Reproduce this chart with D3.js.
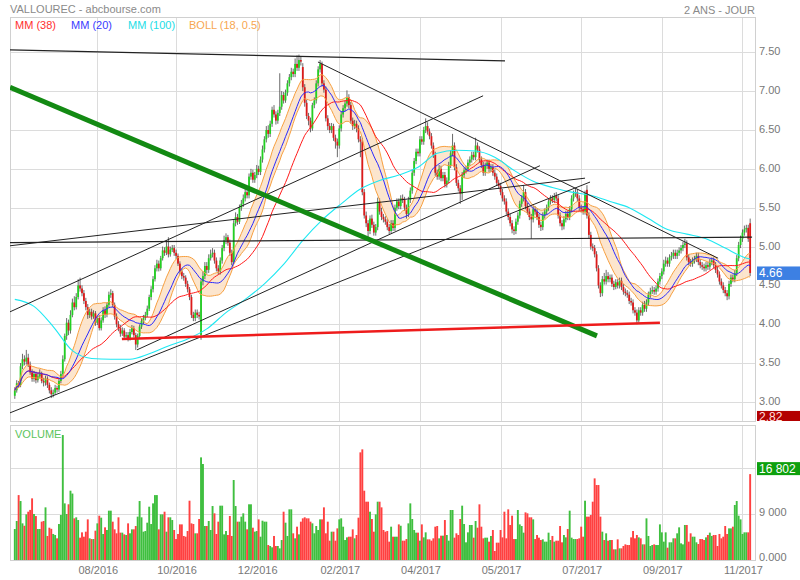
<!DOCTYPE html>
<html>
<head>
<meta charset="utf-8">
<title>VALLOUREC - abcbourse.com</title>
<script src="https://d3js.org/d3.v7.min.js"></script>
<style>
  body { margin: 0; background: #fff; }
  text { font-family: "Liberation Sans", Arial, sans-serif; }
</style>
</head>
<body>
<script>
// daily candles
const opens = [
  3.08,3.15,3.24,3.22,3.46,3.55,3.52,3.57,3.48,3.38, 3.30,3.36,3.28,3.33,3.36,3.27,3.25,3.30,3.22,3.15,
  3.10,3.12,3.18,3.16,3.27,3.36,3.55,3.85,4.02,3.92, 4.12,4.28,4.22,4.35,4.50,4.46,4.40,4.30,4.22,4.12,
  4.16,4.10,4.14,4.02,4.08,3.95,4.05,4.18,4.12,4.25, 4.38,4.40,4.25,4.10,4.00,3.95,3.88,3.92,3.84,3.86,
  3.82,3.90,3.95,3.86,3.74,3.85,3.97,4.04,4.08,4.12, 4.20,4.35,4.45,4.58,4.72,4.78,4.72,4.85,4.95,4.92,
  5.00,4.90,4.96,4.98,4.92,4.88,4.78,4.68,4.62,4.60, 4.52,4.45,4.35,4.12,4.08,4.15,4.12,3.86,4.55,4.62,
  4.75,4.70,4.85,4.90,4.92,4.82,4.72,4.68,4.82,4.98, 5.08,5.12,5.05,4.92,4.80,5.30,5.38,5.32,5.50,5.55,
  5.62,5.70,5.66,5.90,5.95,5.86,5.92,6.00,5.96,6.12, 6.25,6.38,6.50,6.45,6.58,6.76,6.70,6.62,6.72,6.80,
  6.95,6.88,6.98,7.10,7.18,7.25,7.22,7.35,7.30,7.40, 7.31,7.05,6.85,6.68,6.62,6.52,6.82,6.88,7.10,7.28,
  7.35,7.10,7.02,6.65,6.55,6.50,6.55,6.40,6.35,6.30, 6.52,6.70,6.78,6.84,6.92,6.82,6.62,6.55,6.58,6.52,
  6.38,6.35,5.70,5.40,5.30,5.20,5.36,5.28,5.18,5.25, 5.58,5.45,5.38,5.35,5.32,5.25,5.20,5.30,5.24,5.50,
  5.58,5.52,5.62,5.60,5.50,5.42,5.60,5.72,5.95,6.10, 6.22,6.20,6.38,6.35,6.50,6.55,6.48,6.42,6.30,6.18,
  5.95,5.90,6.00,5.88,5.92,5.80,5.85,6.05,6.20,6.30, 6.02,5.82,5.75,5.68,5.92,5.98,6.00,6.08,6.12,6.18,
  6.15,6.30,6.25,6.12,6.05,5.95,6.04,6.08,6.00,6.02, 5.95,5.90,5.82,5.78,5.70,5.62,5.58,5.45,5.38,5.30,
  5.22,5.20,5.32,5.40,5.55,5.62,5.70,5.52,5.45,5.38, 5.35,5.48,5.45,5.38,5.28,5.25,5.40,5.45,5.50,5.58,
  5.62,5.60,5.65,5.62,5.40,5.30,5.26,5.35,5.42,5.38, 5.48,5.62,5.68,5.70,5.62,5.50,5.48,5.45,5.73,5.40,
  5.15,5.00,4.98,4.90,4.72,4.50,4.40,4.58,4.55,4.62, 4.58,4.60,4.52,4.48,4.54,4.50,4.56,4.48,4.42,4.40,
  4.38,4.30,4.28,4.18,4.15,4.05,4.18,4.15,4.25,4.20, 4.28,4.38,4.42,4.44,4.42,4.46,4.55,4.62,4.68,4.78,
  4.82,4.78,4.86,4.88,4.92,4.88,4.92,4.95,4.98,5.02, 5.04,4.86,4.80,4.78,4.82,4.84,4.88,4.80,4.76,4.74,
  4.72,4.76,4.74,4.80,4.82,4.76,4.70,4.64,4.55,4.50, 4.44,4.40,4.36,4.52,4.60,4.58,4.66,4.85,5.02,5.10,
  5.18,5.22,5.24,5.30
];
const highs = [
  3.19,3.28,3.27,3.50,3.62,3.60,3.67,3.62,3.52,3.42, 3.40,3.39,3.37,3.42,3.39,3.31,3.34,3.33,3.25,3.19,
  3.16,3.22,3.21,3.30,3.40,3.60,3.88,4.08,4.06,4.18, 4.33,4.36,4.40,4.58,4.60,4.50,4.44,4.34,4.26,4.20,
  4.20,4.18,4.17,4.11,4.12,4.09,4.22,4.23,4.28,4.42, 4.45,4.43,4.28,4.14,4.04,3.99,3.96,3.95,3.90,3.90,
  3.94,3.99,3.98,3.89,3.88,4.00,4.08,4.12,4.16,4.24, 4.38,4.49,4.62,4.76,4.83,4.82,4.88,5.00,4.99,5.08,
  5.12,5.00,5.02,5.02,4.96,4.91,4.81,4.72,4.66,4.63, 4.56,4.48,4.38,4.16,4.19,4.19,4.16,4.58,4.68,4.80,
  4.80,4.90,4.96,4.98,4.96,4.86,4.76,4.86,5.02,5.14, 5.17,5.15,5.09,4.96,5.34,5.44,5.42,5.54,5.60,5.67,
  5.75,5.74,5.94,6.00,5.99,5.96,6.05,6.04,6.16,6.30, 6.42,6.55,6.56,6.62,6.80,6.82,6.74,6.76,7.23,7.00,
  6.99,7.02,7.14,7.22,7.30,7.29,7.42,7.46,7.47,7.44, 7.36,7.09,6.89,6.72,6.66,6.85,6.92,7.14,7.32,7.40,
  7.38,7.14,7.06,6.69,6.59,6.59,6.58,6.44,6.39,6.56, 6.74,6.82,6.88,7.01,6.96,6.86,6.66,6.63,6.62,6.56,
  6.42,6.40,5.74,5.45,5.34,5.40,5.41,5.32,5.29,5.63, 5.62,5.50,5.42,5.39,5.36,5.29,5.34,5.34,5.54,5.62,
  5.62,5.66,5.67,5.64,5.54,5.64,5.76,5.99,6.14,6.26, 6.26,6.42,6.42,6.54,6.65,6.60,6.52,6.46,6.34,6.22,
  5.99,6.05,6.04,5.96,5.96,5.89,6.09,6.24,6.45,6.34, 6.06,5.86,5.79,5.96,6.02,6.04,6.12,6.16,6.22,6.22,
  6.40,6.34,6.29,6.16,6.09,6.08,6.12,6.12,6.06,6.06, 5.99,5.94,5.86,5.82,5.74,5.66,5.62,5.49,5.42,5.34,
  5.26,5.36,5.44,5.59,5.66,5.79,5.74,5.56,5.49,5.42, 5.52,5.52,5.49,5.42,5.32,5.44,5.49,5.54,5.62,5.66,
  5.66,5.69,5.70,5.66,5.44,5.34,5.39,5.46,5.46,5.52, 5.66,5.72,5.75,5.74,5.66,5.54,5.52,5.72,5.79,5.44,
  5.19,5.04,5.02,4.94,4.76,4.54,4.62,4.66,4.70,4.67, 4.64,4.64,4.56,4.58,4.58,4.60,4.60,4.52,4.46,4.44,
  4.42,4.34,4.32,4.22,4.19,4.22,4.22,4.29,4.30,4.32, 4.42,4.47,4.49,4.48,4.50,4.59,4.66,4.72,4.83,4.87,
  4.86,4.90,4.93,4.96,4.96,4.96,4.99,5.02,5.06,5.10, 5.08,4.90,4.84,4.86,4.88,4.92,4.92,4.84,4.80,4.78,
  4.80,4.80,4.84,4.86,4.86,4.80,4.74,4.68,4.59,4.54, 4.48,4.44,4.56,4.64,4.64,4.70,4.89,5.06,5.14,5.22,
  5.27,5.28,5.28,5.36
];
const lows = [
  3.04,3.12,3.18,3.19,3.42,3.47,3.48,3.45,3.35,3.26, 3.26,3.24,3.25,3.30,3.24,3.20,3.21,3.18,3.11,3.05,
  3.06,3.09,3.12,3.13,3.24,3.33,3.52,3.80,3.86,3.88, 4.09,4.18,4.19,4.32,4.42,4.36,4.26,4.18,4.07,4.08,
  4.06,4.07,3.98,3.99,3.92,3.92,4.02,4.08,4.09,4.22, 4.34,4.22,4.06,3.96,3.91,3.84,3.85,3.80,3.80,3.78,
  3.79,3.87,3.83,3.67,3.70,3.82,3.94,4.00,4.05,4.09, 4.17,4.31,4.41,4.55,4.68,4.68,4.69,4.82,4.88,4.89,
  4.86,4.87,4.93,4.88,4.84,4.75,4.64,4.58,4.56,4.48, 4.41,4.31,4.08,4.04,4.04,4.08,4.06,3.80,4.50,4.58,
  4.65,4.66,4.82,4.86,4.78,4.68,4.64,4.64,4.78,4.94, 5.03,5.01,4.88,4.76,4.77,5.26,5.28,5.29,5.46,5.51,
  5.58,5.62,5.62,5.86,5.82,5.82,5.88,5.92,5.92,6.08, 6.21,6.34,6.40,6.41,6.54,6.66,6.57,6.58,6.68,6.76,
  6.84,6.85,6.94,7.06,7.14,7.18,7.18,7.26,7.26,7.33, 7.00,6.80,6.64,6.56,6.47,6.49,6.78,6.84,7.06,7.24,
  7.06,6.98,6.61,6.50,6.46,6.46,6.36,6.26,6.15,6.26, 6.48,6.66,6.74,6.80,6.78,6.58,6.50,6.51,6.47,6.34,
  6.15,5.66,5.36,5.25,5.10,5.16,5.24,5.14,5.14,5.21, 5.41,5.34,5.31,5.28,5.21,5.16,5.17,5.20,5.20,5.46,
  5.48,5.48,5.56,5.46,5.36,5.38,5.56,5.68,5.91,6.06, 6.16,6.16,6.31,6.31,6.46,6.44,6.38,6.26,6.14,5.91,
  5.86,5.86,5.84,5.84,5.76,5.76,5.81,6.01,6.16,5.98, 5.78,5.71,5.55,5.60,5.88,5.94,5.96,6.04,6.08,6.11,
  6.11,6.21,6.08,6.01,5.91,5.91,6.00,5.96,5.96,5.91, 5.86,5.78,5.74,5.66,5.58,5.54,5.41,5.34,5.26,5.17,
  5.15,5.16,5.28,5.36,5.51,5.58,5.48,5.41,5.34,5.10, 5.31,5.41,5.34,5.24,5.20,5.21,5.36,5.41,5.46,5.54,
  5.56,5.56,5.58,5.36,5.26,5.21,5.22,5.31,5.34,5.34, 5.44,5.58,5.64,5.58,5.46,5.44,5.41,5.41,5.36,5.11,
  4.96,4.94,4.86,4.68,4.46,4.35,4.36,4.51,4.51,4.54, 4.54,4.48,4.44,4.45,4.46,4.46,4.44,4.38,4.36,4.34,
  4.26,4.24,4.14,4.11,4.00,4.02,4.11,4.11,4.16,4.16, 4.24,4.34,4.39,4.38,4.38,4.42,4.51,4.58,4.64,4.74,
  4.74,4.74,4.82,4.84,4.84,4.84,4.88,4.91,4.94,4.98, 4.82,4.76,4.74,4.74,4.78,4.80,4.76,4.72,4.70,4.68,
  4.68,4.70,4.70,4.76,4.72,4.66,4.60,4.51,4.46,4.40, 4.36,4.31,4.32,4.48,4.54,4.54,4.62,4.81,4.98,5.06,
  5.14,5.18,5.06,4.62
];
const closes = [
  3.15,3.24,3.22,3.46,3.55,3.52,3.57,3.48,3.38,3.30, 3.36,3.28,3.33,3.36,3.27,3.25,3.30,3.22,3.15,3.10,
  3.12,3.18,3.16,3.27,3.36,3.55,3.85,4.02,3.92,4.12, 4.28,4.22,4.35,4.50,4.46,4.40,4.30,4.22,4.12,4.16,
  4.10,4.14,4.02,4.08,3.95,4.05,4.18,4.12,4.25,4.38, 4.40,4.25,4.10,4.00,3.95,3.88,3.92,3.84,3.86,3.82,
  3.90,3.95,3.86,3.74,3.85,3.97,4.04,4.08,4.12,4.20, 4.35,4.45,4.58,4.72,4.78,4.72,4.85,4.95,4.92,5.00,
  4.90,4.96,4.98,4.92,4.88,4.78,4.68,4.62,4.60,4.52, 4.45,4.35,4.12,4.08,4.15,4.12,4.10,4.55,4.62,4.75,
  4.70,4.85,4.90,4.92,4.82,4.72,4.68,4.82,4.98,5.08, 5.12,5.05,4.92,4.80,5.30,5.38,5.32,5.50,5.55,5.62,
  5.70,5.66,5.90,5.95,5.86,5.92,6.00,5.96,6.12,6.25, 6.38,6.50,6.45,6.58,6.76,6.70,6.62,6.72,6.80,6.95,
  6.88,6.98,7.10,7.18,7.25,7.22,7.35,7.30,7.40,7.38, 7.05,6.85,6.68,6.62,6.52,6.82,6.88,7.10,7.28,7.35,
  7.10,7.02,6.65,6.55,6.50,6.55,6.40,6.35,6.30,6.52, 6.70,6.78,6.84,6.92,6.82,6.62,6.55,6.58,6.52,6.38,
  6.35,5.70,5.40,5.30,5.20,5.36,5.28,5.18,5.25,5.58, 5.45,5.38,5.35,5.32,5.25,5.20,5.30,5.24,5.50,5.58,
  5.52,5.62,5.60,5.50,5.42,5.60,5.72,5.95,6.10,6.22, 6.20,6.38,6.35,6.50,6.55,6.48,6.42,6.30,6.18,5.95,
  5.90,6.00,5.88,5.92,5.80,5.85,6.05,6.20,6.30,6.02, 5.82,5.75,5.68,5.92,5.98,6.00,6.08,6.12,6.18,6.15,
  6.30,6.25,6.12,6.05,5.95,6.04,6.08,6.00,6.02,5.95, 5.90,5.82,5.78,5.70,5.62,5.58,5.45,5.38,5.30,5.22,
  5.20,5.32,5.40,5.55,5.62,5.70,5.52,5.45,5.38,5.35, 5.48,5.45,5.38,5.28,5.25,5.40,5.45,5.50,5.58,5.62,
  5.60,5.65,5.62,5.40,5.30,5.26,5.35,5.42,5.38,5.48, 5.62,5.68,5.70,5.62,5.50,5.48,5.45,5.68,5.40,5.15,
  5.00,4.98,4.90,4.72,4.50,4.40,4.58,4.55,4.62,4.58, 4.60,4.52,4.48,4.54,4.50,4.56,4.48,4.42,4.40,4.38,
  4.30,4.28,4.18,4.15,4.05,4.18,4.15,4.25,4.20,4.28, 4.38,4.42,4.44,4.42,4.46,4.55,4.62,4.68,4.78,4.82,
  4.78,4.86,4.88,4.92,4.88,4.92,4.95,4.98,5.02,5.04, 4.86,4.80,4.78,4.82,4.84,4.88,4.80,4.76,4.74,4.72,
  4.76,4.74,4.80,4.82,4.76,4.70,4.64,4.55,4.50,4.44, 4.40,4.36,4.52,4.60,4.58,4.66,4.85,5.02,5.10,5.18,
  5.22,5.24,5.10,4.66
];
const volumes = [
  6060,7630,12700,11540,7170,6700,8930,9450,9800,12060, 9000,8600,6060,6060,7500,7630,10300,4700,6320,6100,
  5090,4890,4240,7040,8800,24450,11080,9000,10900,13560, 13000,8150,8350,7820,4370,5410,4560,5540,7950,4240,
  4100,4100,5740,7170,8670,8280,5090,6390,5870,9650, 9650,7500,6000,5220,8350,5350,5350,5020,4890,7170,
  5220,6000,6000,6650,8480,11540,8350,5540,5670,7300, 10430,7040,11080,12700,12700,6000,8930,8930,9450,5540,
  8350,8350,7820,5870,4100,5090,6970,6970,4700,4560, 5670,11600,7170,7040,5220,5220,8020,20080,18780,6650,
  6650,7630,5870,10560,9130,5090,7500,10630,10630,5020, 5670,4890,8610,4700,15650,10560,7500,7500,8480,9130,
  7500,6000,10900,10900,6320,5540,5670,7950,4560,7690, 7500,7500,2930,2740,2480,4700,2740,2740,2280,3910,
  9450,7300,4700,9910,9910,5220,4240,6520,5020,7500, 8150,8350,8150,8150,7500,7170,5220,6650,5870,7950,
  7950,10300,5220,7500,3780,5540,5540,3780,6190,7950, 8150,6520,3910,4430,4560,4560,6000,4240,4890,8280,
  21060,21650,13560,11410,11410,9450,8020,5540,8930,11410, 11410,10300,5870,5540,5670,3590,6520,4560,4560,4560,
  6970,6700,3780,3780,4100,7170,11080,8020,5870,5350, 5350,3780,6970,4430,5410,4040,4040,3780,4240,6520,
  6650,4240,4760,4760,7820,4890,3780,9780,9780,4370, 5220,4890,8020,10630,7040,3460,5410,6850,6850,4370,
  7630,6320,10890,6520,4240,4370,4370,3590,4700,5870, 1760,3390,3390,5870,4430,9450,4240,9910,6850,8670,
  4100,4100,9780,6970,6650,5350,9320,9130,8350,8350, 7950,4100,4890,4370,3910,4040,3590,3590,5350,3910,
  4700,3590,3780,3780,6650,3460,4890,4430,6060,9650, 4370,4100,4100,4100,4240,6520,4560,11600,8480,8480,
  8800,11410,15970,14670,14670,8480,5540,3910,5220,3780, 3910,3910,2090,2090,4040,2280,2280,2740,3060,2930,
  2930,4430,5670,4240,4890,4430,4240,3060,3060,8150, 4700,2740,2930,3060,2930,2930,6970,5410,3590,5410,
  2410,3460,3460,4240,4240,5220,6390,3260,3060,6850, 6850,3590,5220,4560,4560,3460,3130,4100,4100,3910,
  4430,4890,5350,4700,4890,4890,2740,5090,4240,4560, 6650,5090,6190,6190,6520,10760,11540,8670,7950,5090,
  5410,5410,5410,16802
];

const mm100Idx = [0,10,20,30,40,50,60,70,80,90,100,110,120,130,140,150,160,170,180,190,
  200,210,220,230,240,250,260,270,280,290,300,310,320,330,340,350,360,370,380,383];
const mm100Val = [4.32,4.23,3.97,3.66,3.56,3.55,3.55,3.62,3.72,3.81,3.94,4.15,4.32,4.52,4.77,5.08,5.34,5.55,5.74,5.85,
  5.92,6.02,6.20,6.24,6.23,6.15,5.98,5.84,5.76,5.70,5.66,5.58,5.50,5.36,5.22,5.16,5.10,4.98,4.86,4.84];

const monthIdx = [43, 84, 126, 169, 211, 253, 295, 337, 379];
const monthLabels = ['08/2016', '10/2016', '12/2016', '02/2017', '04/2017', '05/2017', '07/2017', '09/2017', '11/2017'];
const priceTicks = [3.0, 3.5, 4.0, 4.5, 5.0, 5.5, 6.0, 6.5, 7.0, 7.5];
const volTicks = [0, 9000, 18000];
const volTickLabels = ['0.000', '9 000', ''];

// drawn trend lines: [index1, price1, index2, price2]
const trendLines = [
  [-2.5, 7.53, 255.3, 7.39],
  [157.9, 7.375, 366.3, 4.85],
  [-2.5, 4.16, 243.9, 6.94],
  [63.6, 3.67, 273.5, 6.04],
  [-2.5, 2.86, 299.6, 5.83],
  [-2.5, 5.01, 297, 5.88],
  [-2.5, 5.05, 384, 5.12],
  [-2.5, 7.05, 303.2, 3.85],
  [55.8, 3.81, 336, 4.02]
];
const trendStyle = [
  ['#222', 1.3], ['#222', 1], ['#222', 1], ['#222', 1], ['#222', 1],
  ['#222', 1], ['#222', 1.2], ['#138a13', 5], ['#ee1c1c', 2.5]
];

const lastPrice = 4.66;
const lowMark = 2.82;
const lastVolume = 16802;

const width = 800, height = 580;
const left = 10, right = 755;
const pTop = 17, pBottom = 421, vTop = 425, vBottom = 560;

const svg = d3.select('body').append('svg')
    .attr('width', width)
    .attr('height', height);

const n = closes.length;
const x = d3.scaleLinear().domain([0, n - 1]).range([14.8, 14.8 + 1.92 * (n - 1)]);
const y = d3.scaleLinear().domain([2.755, 7.954]).range([pBottom, pTop]);
const yv = d3.scaleLinear().domain([0, 26413]).range([vBottom, vTop]);

const data = d3.range(n).map(i => ({
    i: i, o: opens[i], h: highs[i], l: lows[i], c: closes[i], v: volumes[i]
}));

function sma(arr, len) {
    return arr.map((_, i) => d3.mean(arr.slice(Math.max(0, i - len + 1), i + 1)));
}
const mm20 = sma(closes, 20);
const mm38 = sma(closes, 38);
const boll = closes.map((_, i) => {
    const win = closes.slice(Math.max(0, i - 17), i + 1);
    const m = d3.mean(win);
    const sd = Math.sqrt(d3.mean(win, v => (v - m) * (v - m)));
    return { i: i, up: m + 0.5 * sd, lo: m - 0.5 * sd };
});

svg.append('defs').append('clipPath').attr('id', 'pclip')
    .append('rect').attr('x', left).attr('y', pTop)
    .attr('width', right - left).attr('height', pBottom - pTop);

const grid = svg.append('g').attr('stroke', '#dcdcdc').attr('stroke-width', 1);
priceTicks.forEach(p => {
    grid.append('line').attr('x1', left).attr('x2', right)
        .attr('y1', Math.round(y(p)) + 0.5).attr('y2', Math.round(y(p)) + 0.5);
});
volTicks.slice(1).forEach(v => {
    grid.append('line').attr('x1', left).attr('x2', right)
        .attr('y1', Math.round(yv(v)) + 0.5).attr('y2', Math.round(yv(v)) + 0.5);
});
monthIdx.forEach(i => {
    const xx = Math.round(x(i)) + 0.5;
    grid.append('line').attr('x1', xx).attr('x2', xx).attr('y1', pTop).attr('y2', pBottom);
    grid.append('line').attr('x1', xx).attr('x2', xx).attr('y1', vTop).attr('y2', vBottom);
});

// frames
svg.append('rect').attr('x', left + 0.5).attr('y', pTop + 0.5)
    .attr('width', right - left).attr('height', pBottom - pTop)
    .attr('fill', 'none').attr('stroke', '#d0d0d0');
svg.append('rect').attr('x', left + 0.5).attr('y', vTop + 0.5)
    .attr('width', right - left).attr('height', vBottom - vTop)
    .attr('fill', 'none').attr('stroke', '#d0d0d0');

const plot = svg.append('g').attr('clip-path', 'url(#pclip)');

// bollinger band
plot.append('path').datum(boll)
    .attr('fill', '#fce2c8').attr('fill-opacity', 0.9)
    .attr('d', d3.area().x(d => x(d.i)).y0(d => y(d.lo)).y1(d => y(d.up)));

// candles
const cw = 1.8;
const candle = plot.append('g').selectAll('g').data(data).enter().append('g');
candle.append('line')
    .attr('x1', d => x(d.i)).attr('x2', d => x(d.i))
    .attr('y1', d => y(d.h)).attr('y2', d => y(d.l))
    .attr('stroke', '#444').attr('stroke-width', 0.8);
candle.append('rect')
    .attr('x', d => x(d.i) - cw / 2)
    .attr('width', cw)
    .attr('y', d => y(Math.max(d.o, d.c)))
    .attr('height', d => Math.max(1, Math.abs(y(d.o) - y(d.c))))
    .attr('fill', d => d.c >= d.o ? '#22d022' : '#dd1a1a');

// band edges and moving averages
const lineOf = arr => d3.line().x((d, i) => x(i)).y(d => y(d))(arr);
plot.append('path').attr('d', lineOf(boll.map(d => d.up)))
    .attr('fill', 'none').attr('stroke', '#f7a040').attr('stroke-width', 1);
plot.append('path').attr('d', lineOf(boll.map(d => d.lo)))
    .attr('fill', 'none').attr('stroke', '#f7a040').attr('stroke-width', 1);
plot.append('path').attr('d', lineOf(mm38))
    .attr('fill', 'none').attr('stroke', '#ff1a1a').attr('stroke-width', 1);
plot.append('path').attr('d', lineOf(mm20))
    .attr('fill', 'none').attr('stroke', '#2a2aff').attr('stroke-width', 1);
plot.append('path')
    .attr('d', d3.line().x(d => x(d[0])).y(d => y(d[1])).curve(d3.curveMonotoneX)(mm100Idx.map((k, j) => [k, mm100Val[j]])))
    .attr('fill', 'none').attr('stroke', '#1ee8f2').attr('stroke-width', 1.1);

// trend lines
trendLines.forEach((t, k) => {
    plot.append('line')
        .attr('x1', x(t[0])).attr('y1', y(t[1]))
        .attr('x2', x(t[2])).attr('y2', y(t[3]))
        .attr('stroke', trendStyle[k][0]).attr('stroke-width', trendStyle[k][1]);
});

// volume
svg.append('g').selectAll('rect').data(data).enter().append('rect')
    .attr('x', d => x(d.i) - 0.95)
    .attr('width', 1.9)
    .attr('y', d => yv(d.v))
    .attr('height', d => vBottom - yv(d.v))
    .attr('fill', d => d.c >= d.o ? '#3fbf3f' : '#ff4040');

// texts
const txt = (s, xx, yy, col, anchor, size) => svg.append('text')
    .attr('x', xx).attr('y', yy).attr('fill', col)
    .attr('font-size', size || 11).attr('text-anchor', anchor || 'start').text(s);

txt('VALLOUREC - abcbourse.com', 10, 12.5, '#8a8a8a', 'start', 11);
txt('2 ANS - JOUR', 755, 13.5, '#8a8a8a', 'end', 11);
txt('MM (38)', 15, 29, '#ff3030');
txt('MM (20)', 71, 29, '#3a3aff');
txt('MM (100)', 128, 29, '#22dde6');
txt('BOLL (18, 0.5)', 189, 29, '#f7a650');
txt('VOLUME', 15, 438, '#5cc45c');

priceTicks.forEach(p => txt(p.toFixed(2), 759, y(p) + 3, '#777'));
volTicks.forEach((v, k) => { if (volTickLabels[k]) txt(volTickLabels[k], 759, Math.min(yv(v) + 2.5, 561), '#777'); });
monthIdx.forEach((i, k) => txt(monthLabels[k], x(i) + 1, 574, '#777', 'middle'));

// value boxes
svg.append('rect').attr('x', 757).attr('y', y(lastPrice) - 6.5).attr('width', 43).attr('height', 13.5).attr('fill', '#3d80e3');
txt(lastPrice.toFixed(2), 759, y(lastPrice) + 4.5, '#fff', 'start', 12);
svg.append('rect').attr('x', 757).attr('y', y(lowMark) - 5).attr('width', 43)
    .attr('height', pBottom - (y(lowMark) - 5)).attr('fill', '#b30000');
txt(lowMark.toFixed(2), 759, y(lowMark) + 5, '#ffdede', 'start', 12);
svg.append('rect').attr('x', 757).attr('y', yv(lastVolume) - 12).attr('width', 43).attr('height', 13).attr('fill', '#0ea00e');
txt(d3.format(',')(lastVolume).replace(',', ' '), 759, yv(lastVolume) - 1.5, '#fff', 'start', 12);
</script>
</body>
</html>
